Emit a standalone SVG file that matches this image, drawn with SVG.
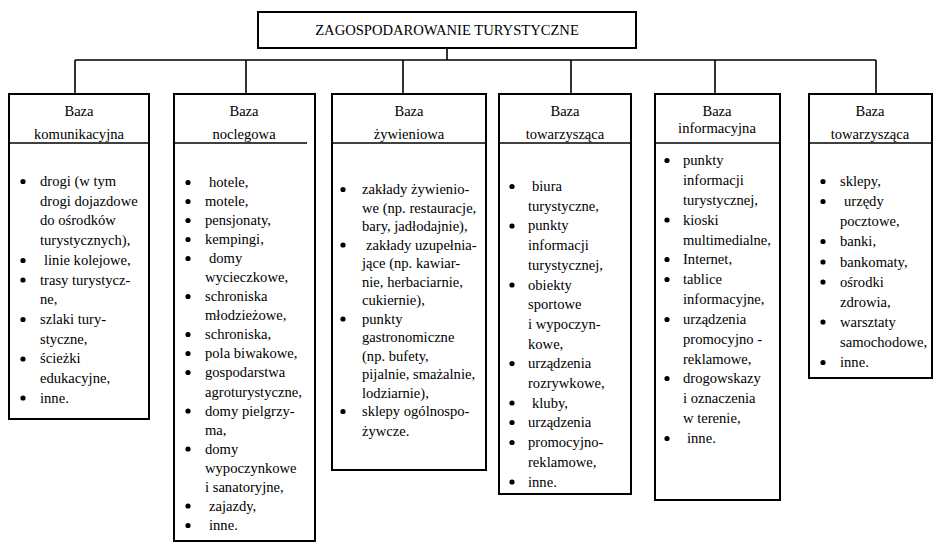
<svg xmlns="http://www.w3.org/2000/svg" width="934" height="543" viewBox="0 0 934 543">
<style>
text{font-family:"Liberation Serif","Times New Roman",serif;font-size:14.6px;fill:#000}
.h{text-anchor:middle}
.box{fill:#fff;stroke:#000;stroke-width:2}
.ln{fill:none;stroke:#000;stroke-width:1.6}
.dv{stroke:#000;stroke-width:1.6}
.b{fill:#000}
</style>
<defs><circle id="bu" r="2.6" class="b"/></defs>
<rect width="934" height="543" fill="#fff"/>
<g id="connectors">
<path class="ln" d="M447 48V60M75 60H876M75 60V94M246 60V94M403 60V94M571 60V94M715 60V94M876 60V94"/>
</g>
<g id="title">
<rect class="box" x="258" y="12" width="378" height="36"/>
<text class="h" x="447" y="35">ZAGOSPODAROWANIE TURYSTYCZNE</text>
</g>
<g id="col1">
<rect class="box" x="9" y="94" width="140" height="325"/>
<line class="dv" x1="9" y1="143" x2="149" y2="143"/>
<text class="h" x="79" y="116">Baza</text>
<text class="h" x="79" y="139">komunikacyjna</text>
<use href="#bu" x="23" y="181.5"/><use href="#bu" x="23" y="260.5"/><use href="#bu" x="23" y="280"/><use href="#bu" x="23" y="319.5"/><use href="#bu" x="23" y="359"/><use href="#bu" x="23" y="398"/>
<text x="40" y="186">drogi (w tym</text>
<text x="40" y="205.7">drogi dojazdowe</text>
<text x="40" y="225.4">do ośrodków</text>
<text x="40" y="245.1">turystycznych),</text>
<text x="44" y="264.8">linie kolejowe,</text>
<text x="40" y="284.5">trasy turystycz-</text>
<text x="40" y="304.2">ne,</text>
<text x="40" y="323.9">szlaki tury-</text>
<text x="40" y="343.6">styczne,</text>
<text x="40" y="363.3">ścieżki</text>
<text x="40" y="383">edukacyjne,</text>
<text x="40" y="402.7">inne.</text>
</g>
<g id="col2">
<rect class="box" x="174" y="94" width="141" height="447"/>
<line class="dv" x1="174" y1="143" x2="307" y2="143"/>
<text class="h" x="244" y="116">Baza</text>
<text class="h" x="244" y="139">noclegowa</text>
<use href="#bu" x="188" y="182.5"/><use href="#bu" x="188" y="201.5"/><use href="#bu" x="188" y="220.5"/><use href="#bu" x="188" y="239.5"/><use href="#bu" x="188" y="258.5"/><use href="#bu" x="188" y="296.5"/><use href="#bu" x="188" y="334.5"/><use href="#bu" x="188" y="353.5"/><use href="#bu" x="188" y="372.5"/><use href="#bu" x="188" y="411"/><use href="#bu" x="188" y="449"/><use href="#bu" x="188" y="506"/><use href="#bu" x="188" y="525.5"/>
<text x="209" y="187">hotele,</text>
<text x="205" y="206">motele,</text>
<text x="205" y="225">pensjonaty,</text>
<text x="205" y="244">kempingi,</text>
<text x="209" y="263">domy</text>
<text x="205" y="282">wycieczkowe,</text>
<text x="205" y="301">schroniska</text>
<text x="205" y="320">młodzieżowe,</text>
<text x="205" y="339">schroniska,</text>
<text x="205" y="358">pola biwakowe,</text>
<text x="205" y="377">gospodarstwa</text>
<text x="205" y="396.5">agroturystyczne,</text>
<text x="205" y="415.5">domy pielgrzy-</text>
<text x="205" y="434.5">ma,</text>
<text x="205" y="453.5">domy</text>
<text x="205" y="472.5">wypoczynkowe</text>
<text x="205" y="491.5">i sanatoryjne,</text>
<text x="209" y="510.5">zajazdy,</text>
<text x="209" y="530">inne.</text>
</g>
<g id="col3">
<rect class="box" x="332" y="94" width="154" height="376"/>
<line class="dv" x1="332" y1="143" x2="486" y2="143"/>
<text class="h" x="409" y="116">Baza</text>
<text class="h" x="409" y="139">żywieniowa</text>
<use href="#bu" x="343" y="189.5"/><use href="#bu" x="343" y="245"/><use href="#bu" x="343" y="319"/><use href="#bu" x="343" y="411.5"/>
<text x="362" y="194">zakłady żywienio-</text>
<text x="362" y="212.5">we (np. restauracje,</text>
<text x="362" y="231">bary, jadłodajnie),</text>
<text x="366" y="249.5">zakłady uzupełnia-</text>
<text x="362" y="268">jące (np. kawiar-</text>
<text x="362" y="286.5">nie, herbaciarnie,</text>
<text x="362" y="305">cukiernie),</text>
<text x="362" y="323.5">punkty</text>
<text x="362" y="342">gastronomiczne</text>
<text x="362" y="360.5">(np. bufety,</text>
<text x="362" y="379">pijalnie, smażalnie,</text>
<text x="362" y="397.5">lodziarnie),</text>
<text x="362" y="416">sklepy ogólnospo-</text>
<text x="362" y="436">żywcze.</text>
</g>
<g id="col4">
<rect class="box" x="499" y="94" width="132" height="400"/>
<line class="dv" x1="499" y1="143" x2="631" y2="143"/>
<text class="h" x="565" y="116">Baza</text>
<text class="h" x="565" y="139">towarzysząca</text>
<use href="#bu" x="512" y="186.5"/><use href="#bu" x="512" y="226"/><use href="#bu" x="512" y="285"/><use href="#bu" x="512" y="363.5"/><use href="#bu" x="512" y="403"/><use href="#bu" x="512" y="422.5"/><use href="#bu" x="512" y="442.5"/><use href="#bu" x="512" y="482"/>
<text x="532" y="191">biura</text>
<text x="528" y="210.7">turystyczne,</text>
<text x="528" y="230.4">punkty</text>
<text x="528" y="250">informacji</text>
<text x="528" y="269.8">turystycznej,</text>
<text x="528" y="289.5">obiekty</text>
<text x="528" y="309">sportowe</text>
<text x="528" y="329">i wypoczyn-</text>
<text x="528" y="348.6">kowe,</text>
<text x="528" y="368">urządzenia</text>
<text x="528" y="388">rozrywkowe,</text>
<text x="532" y="407.7">kluby,</text>
<text x="528" y="427">urządzenia</text>
<text x="528" y="447">promocyjno-</text>
<text x="528" y="467">reklamowe,</text>
<text x="528" y="486.5">inne.</text>
</g>
<g id="col5">
<rect class="box" x="655" y="94" width="125" height="406"/>
<line class="dv" x1="655" y1="143" x2="780" y2="143"/>
<text class="h" x="717" y="116">Baza</text>
<text class="h" x="717" y="133">informacyjna</text>
<use href="#bu" x="667" y="160.5"/><use href="#bu" x="667" y="220"/><use href="#bu" x="667" y="259.5"/><use href="#bu" x="667" y="279.5"/><use href="#bu" x="667" y="319.5"/><use href="#bu" x="667" y="378.5"/><use href="#bu" x="667" y="438.5"/>
<text x="683" y="165">punkty</text>
<text x="683" y="185">informacji</text>
<text x="683" y="205">turystycznej,</text>
<text x="683" y="224.5">kioski</text>
<text x="683" y="244.5">multimedialne,</text>
<text x="683" y="264">Internet,</text>
<text x="683" y="284">tablice</text>
<text x="683" y="304">informacyjne,</text>
<text x="683" y="324">urządzenia</text>
<text x="683" y="344">promocyjno -</text>
<text x="683" y="363.5">reklamowe,</text>
<text x="683" y="383">drogowskazy</text>
<text x="683" y="403">i oznaczenia</text>
<text x="683" y="423">w terenie,</text>
<text x="687" y="443">inne.</text>
</g>
<g id="col6">
<rect class="box" x="809" y="94" width="123" height="284"/>
<line class="dv" x1="809" y1="143" x2="932" y2="143"/>
<text class="h" x="870" y="116">Baza</text>
<text class="h" x="870" y="139">towarzysząca</text>
<use href="#bu" x="823" y="181.5"/><use href="#bu" x="823" y="201.5"/><use href="#bu" x="823" y="241.5"/><use href="#bu" x="823" y="262"/><use href="#bu" x="823" y="282"/><use href="#bu" x="823" y="322"/><use href="#bu" x="823" y="362.5"/>
<text x="840" y="186">sklepy,</text>
<text x="844" y="206">urzędy</text>
<text x="840" y="226">pocztowe,</text>
<text x="840" y="246">banki,</text>
<text x="840" y="266.5">bankomaty,</text>
<text x="840" y="286.5">ośrodki</text>
<text x="840" y="306.5">zdrowia,</text>
<text x="840" y="326.5">warsztaty</text>
<text x="840" y="347">samochodowe,</text>
<text x="840" y="367">inne.</text>
</g>
</svg>
